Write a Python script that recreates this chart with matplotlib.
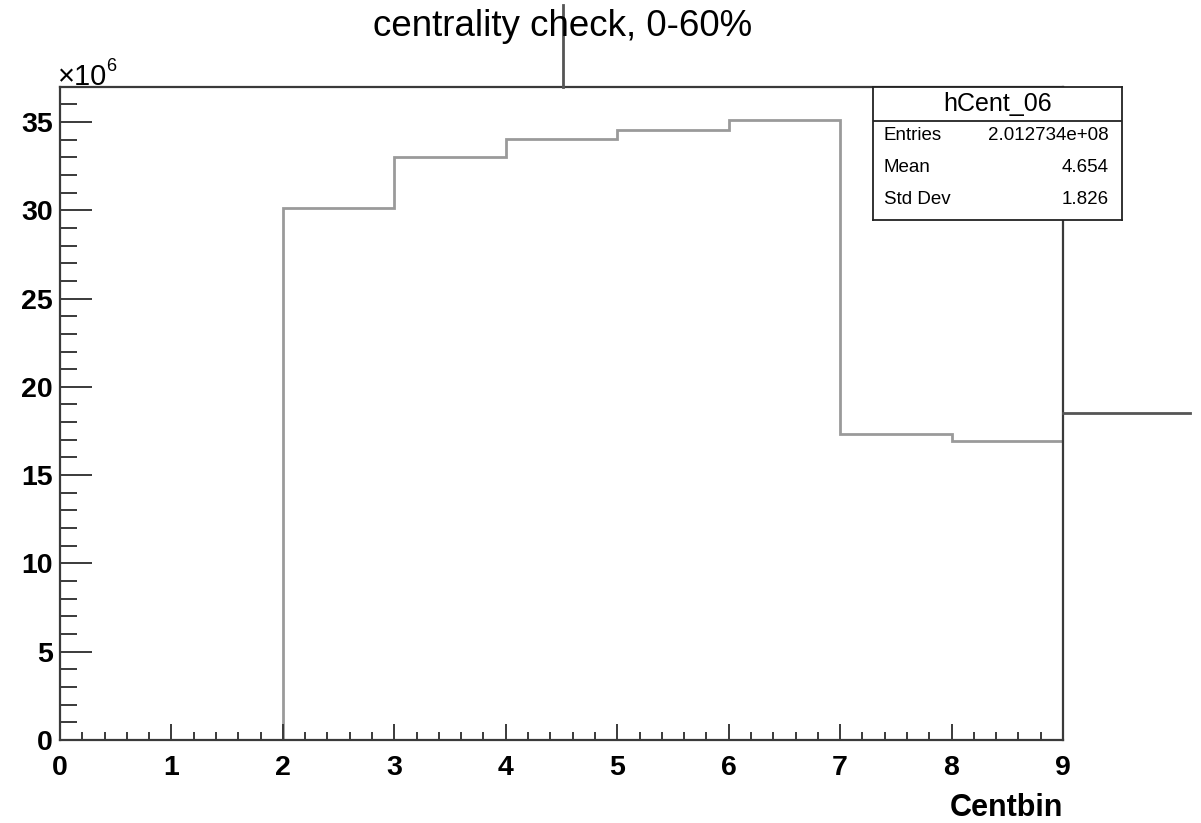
import matplotlib
matplotlib.use("Agg")
import matplotlib.pyplot as plt
from matplotlib.lines import Line2D
from matplotlib.ticker import MultipleLocator, FuncFormatter

plt.rcParams['font.family'] = ['Liberation Sans', 'DejaVu Sans']

# bin edges and contents (in units of 1e6)
edges = [0, 1, 2, 3, 4, 5, 6, 7, 8, 9]
counts = [0, 0, 30.13, 33.0, 34.03, 34.54, 35.1, 17.33, 16.93]

hist_name = "hCent_06"
stat_names = ["Entries", "Mean", "Std Dev"]
stat_values = ["2.012734e+08", "4.654", "1.826"]

W, H = 1201, 823
fig = plt.figure(figsize=(W / 100, H / 100), dpi=100)
ax = fig.add_axes([60 / W, 1 - 740 / H, 1003 / W, 653 / H])

frame = '#3a3a3a'
ax.stairs(counts, edges, baseline=0, color='#9a9a9a', lw=2)
ax.set_xlim(0, 9)
ax.set_ylim(0, 36.98)

for s in ax.spines.values():
    s.set_color(frame)
    s.set_linewidth(1.6)

ax.xaxis.set_major_locator(MultipleLocator(1))
ax.xaxis.set_minor_locator(MultipleLocator(0.2))
ax.yaxis.set_major_locator(MultipleLocator(5))
ax.yaxis.set_minor_locator(MultipleLocator(1))
ax.yaxis.set_major_formatter(FuncFormatter(lambda v, p: f"{v:g}"))
ax.tick_params(axis='x', which='major', direction='in', length=11.5, width=1.4,
               color=frame, labelsize=20.5, pad=11)
ax.tick_params(axis='x', which='minor', direction='in', length=5.8, width=1.4, color=frame)
ax.tick_params(axis='y', which='major', direction='in', length=23, width=1.4,
               color=frame, labelsize=20.5, pad=5)
ax.tick_params(axis='y', which='minor', direction='in', length=12, width=1.4, color=frame)
for lab in ax.get_xticklabels() + ax.get_yticklabels():
    lab.set_fontweight('bold')

fig.text(1063 / W, 1 - 816 / H, "Centbin", ha='right', va='baseline',
         fontsize=22, fontweight='bold')
fig.text(563 / W, 1 - 36 / H, "centrality check, 0-60%", ha='center', va='baseline',
         fontsize=26.5)
fig.text(58 / W, 1 - 85 / H, "×10", ha='left', va='baseline', fontsize=21)
fig.text(106 / W, 1 - 71 / H, "6", ha='left', va='baseline', fontsize=13)

# stray lines
fig.add_artist(Line2D([563 / W, 563 / W], [1 - 5 / H, 1 - 87 / H], color='#555555', lw=2))
fig.add_artist(Line2D([1063 / W, 1190 / W], [1 - 413 / H, 1 - 413 / H], color='#555555', lw=2))

# stats box
bx0, bx1, by0, by1 = 873, 1122, 87, 220
sax = fig.add_axes([bx0 / W, 1 - by1 / H, (bx1 - bx0) / W, (by1 - by0) / H])
sax.set_xlim(bx0, bx1)
sax.set_ylim(by1, by0)
sax.set_xticks([])
sax.set_yticks([])
for s in sax.spines.values():
    s.set_color('#222222')
    s.set_linewidth(1.3)
sax.axhline(121, color='#222222', lw=1.3)
sax.text((bx0 + bx1) / 2, 104, hist_name, ha='center', va='center', fontsize=18)
for i, (n, v) in enumerate(zip(stat_names, stat_values)):
    yy = 136 + i * 32
    sax.text(bx0 + 11, yy, n, ha='left', va='center', fontsize=13.5)
    sax.text(bx1 - 13, yy, v, ha='right', va='center', fontsize=13.5)

fig.savefig("out.png", dpi=100)
